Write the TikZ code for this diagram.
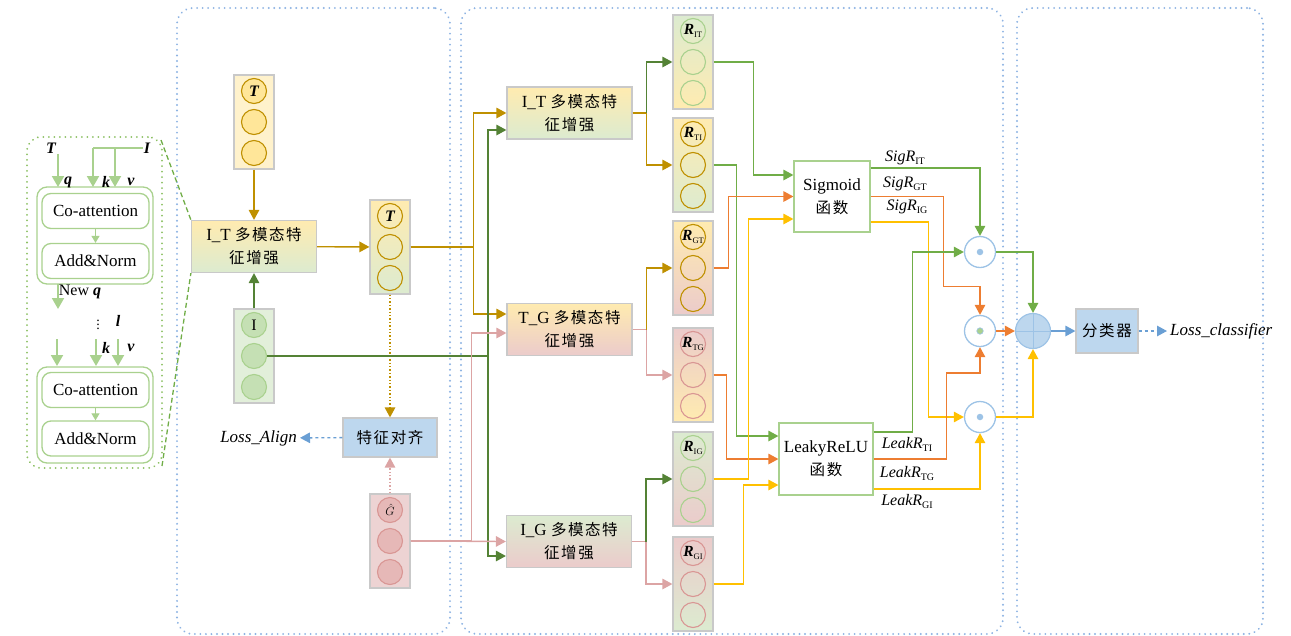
\documentclass[tikz,border=0pt]{standalone}
\usepackage{fontspec}
\setmainfont{Liberation Serif}
\newfontfamily\cjk[LetterSpace=10]{Noto Sans CJK SC}
\usetikzlibrary{arrows.meta}
\definecolor{cGold}{HTML}{BF9000}
\definecolor{cDkGreen}{HTML}{548235}
\definecolor{cGreen}{HTML}{70AD47}
\definecolor{cLtGreen}{HTML}{A9D18E}
\definecolor{cOrange}{HTML}{ED7D31}
\definecolor{cYellow}{HTML}{FFC000}
\definecolor{cPink}{HTML}{DCA4A4}
\definecolor{cPinkC}{HTML}{D99694}
\definecolor{cPinkF}{HTML}{E6B8B7}
\definecolor{cPinkBg}{HTML}{EDD3D3}
\definecolor{cYelBg}{HTML}{FFF2CC}
\definecolor{cGrnBg}{HTML}{E2EFDA}
\definecolor{cYelG}{HTML}{FFEBB0}
\definecolor{cGrnG}{HTML}{DCEBD0}
\definecolor{cPinkG}{HTML}{EBCBCB}
\definecolor{cTcirc}{HTML}{FFE699}
\definecolor{cIcirc}{HTML}{C5E0B4}
\definecolor{cBlue}{HTML}{9DC3E6}
\definecolor{cBlueF}{HTML}{BDD7EE}
\definecolor{cBlueA}{HTML}{6A9FD4}
\definecolor{cGray}{HTML}{C9C9C9}
\definecolor{cDot}{HTML}{8DB3E2}
\definecolor{cLDot}{HTML}{8CC063}
\newcommand\zh[1]{{\cjk\fontsize{15.5}{23}\selectfont #1}}
\newcommand\Rlab[1]{{\fontsize{15.5}{15}\selectfont\bfseries\itshape R}\raisebox{-2.5pt}{\normalfont\fontsize{8.5}{8.5}\selectfont #1}}
\newcommand\Slab[2]{\textit{#1}\raisebox{-3pt}{\normalfont\fontsize{10}{10}\selectfont #2}}
\newcommand\featcol[7]{%
  \node[colbox, top color=#4, bottom color=#5] (#1) at (#2,#3+47) {};
  \node[#6] (#1-1) at (#2,#3+16) {#7};
  \node[#6] (#1-2) at (#2,#3+47) {};
  \node[#6] (#1-3) at (#2,#3+78) {};}
\tikzset{
 panel/.style={draw=cDot, line width=2.1pt, dash pattern=on 0.01pt off 5.5pt, line cap=round, rounded corners=16pt, inner sep=0pt},
 lpanel/.style={draw=cLDot, line width=2pt, dash pattern=on 0.01pt off 5.5pt, line cap=round, rounded corners=14pt, inner sep=0pt},
 lbox/.style={draw=cLtGreen, line width=1.3pt, rounded corners=10pt, inner sep=0pt, fill=white},
 ibox/.style={lbox, rounded corners=9pt, minimum width=107pt, minimum height=35pt, font=\fontsize{17}{20}\selectfont},
 lab/.style={inner sep=0.5pt, font=\fontsize{16}{18}\selectfont\bfseries\itshape},
 colbox/.style={draw=cGray, line width=1.2pt, minimum width=40pt, minimum height=94pt, inner sep=0pt},
 circbase/.style={circle, minimum size=25pt, inner sep=0pt, line width=1.1pt},
 tcirc/.style={circbase, draw=cGold, fill=cTcirc, font=\fontsize{16}{16}\selectfont\bfseries\itshape},
 icirc/.style={circbase, draw=cLtGreen, fill=cIcirc, font=\fontsize{16}{16}\selectfont},
 gcirc/.style={circbase, draw=cPinkC, fill=cPinkF, font=\fontsize{13}{13}\selectfont},
 ocirc/.style={circbase, draw=cGold, font=\fontsize{16}{16}\selectfont\bfseries\itshape},
 ogcirc/.style={circbase, draw=cLtGreen},
 opcirc/.style={circbase, draw=cPinkC},
 fbox/.style={draw=cGray, line width=1.2pt, minimum width=125pt, minimum height=52pt, inner sep=0pt, align=center, font=\fontsize{17}{23}\selectfont},
 abox/.style={draw=cGray, line width=1.2pt, fill=cBlueF, inner sep=0pt},
 gbox/.style={draw=cLtGreen, line width=1.2pt, fill=white, inner sep=0pt, align=center, font=\fontsize{17}{23}\selectfont},
 slab/.style={inner sep=0pt, font=\fontsize{16}{18}\selectfont},
 dotc/.style={circle, draw=cBlue, line width=1.3pt, fill=white, minimum size=31pt, inner sep=0pt},
 arr/.style={-{Triangle[length=10pt,width=10.5pt]}},
 wl/.style={line width=1.4pt},
 goldw/.style={draw=cGold, wl}, dkgw/.style={draw=cDkGreen, wl}, grw/.style={draw=cGreen, wl},
 orw/.style={draw=cOrange, wl}, yew/.style={draw=cYellow, wl}, piw/.style={draw=cPink, wl},
 blw/.style={draw=cBlueA, wl},
 lgw/.style={draw=cLtGreen, line width=2pt},
 lga/.style={lgw, -{Triangle[length=11pt,width=12pt]}},
 lgs/.style={draw=cLtGreen, line width=1.2pt, -{Triangle[length=7pt,width=8pt]}},
 zoomline/.style={draw=cGreen, line width=1.3pt, dash pattern=on 5pt off 3pt},
}
\begin{document}
\begin{tikzpicture}[x=1pt,y=-1pt]
\useasboundingbox (0,0) rectangle (1291,635);
% panels
\node[panel, minimum width=273pt, minimum height=626pt] (p1) at (313.5,321) {};
\node[panel, minimum width=542pt, minimum height=626pt] (p2) at (732,321) {};
\node[panel, minimum width=246pt, minimum height=626pt] (p3) at (1140,321) {};
% left panel
\node[lpanel, minimum width=135pt, minimum height=331pt] (lp) at (94.5,302.5) {};
\node[lbox, minimum width=116pt, minimum height=97pt] (ob1) at (95,235.5) {};
\node[ibox] (co1) at (95.5,211) {Co-attention};
\node[ibox] (an1) at (95.5,261) {Add\&Norm};
\node[lbox, minimum width=116pt, minimum height=96pt] (ob2) at (95,415) {};
\node[ibox] (co2) at (95.5,390) {Co-attention};
\node[ibox] (an2) at (95.5,438.5) {Add\&Norm};
\node[lab] (Tl) at (51,148) {T};
\node[lab] (Il) at (147,148) {I};
\node[lab] (ql) at (68,182) {q};
\node[lab] (kl) at (106,182) {k};
\node[lab] (vl) at (131,182) {v};
\node[inner sep=0pt, font=\fontsize{16}{18}\selectfont] (nql) at (80,292) {New \textbf{\textit{q}}};
\node[inner sep=0pt, font=\fontsize{14}{14}\selectfont] (vd) at (98,322) {$\vdots$};
\node[lab] (ll) at (118,321) {l};
\node[lab] (kl2) at (106,348) {k};
\node[lab] (vl2) at (131,348) {v};
\coordinate (qin) at (58,187);
\coordinate (kin) at (93,187);
\coordinate (vin) at (115,187);
\coordinate (nq0) at (58,284);
\coordinate (nq1) at (58,309);
\coordinate (a0) at (57,339); \coordinate (a1) at (57,366);
\coordinate (b0) at (96,339); \coordinate (b1) at (96,366);
\coordinate (c0) at (118,339); \coordinate (c1) at (118,366);
\draw[lga] (Tl.south -| qin) -- (qin);
\draw[lgw] (Il.west) -- (Il.west -| kin);
\draw[lga] (Il.west -| kin) -- (kin);
\draw[lga] (Il.west -| vin) -- (vin);
\draw[lgs] (co1) -- (an1);
\draw[lga] (nq0) -- (nq1);
\draw[lga] (a0) -- (a1);
\draw[lga] (b0) -- (b1);
\draw[lga] (c0) -- (c1);
\draw[lgs] (co2) -- (an2);
% first middle panel
\featcol{colT}{254}{75}{cYelBg}{cYelBg}{tcirc}{T}
\featcol{colI}{254}{309}{cGrnBg}{cGrnBg}{icirc}{I}
\featcol{colTp}{390}{200}{cYelG}{cGrnG}{ocirc}{T}
\featcol{colG}{390}{494}{cPinkBg}{cPinkBg}{gcirc}{$\hat{G}$}
\node[fbox, top color=cYelG, bottom color=cGrnG] (IT1) at (254,246.5) {I\_T \zh{多模态特}\\\zh{征增强}};
\node[abox, minimum width=94pt, minimum height=39pt] (align) at (390,437.5) {\zh{特征对齐}};
\node[anchor=east, inner sep=3pt, font=\fontsize{17}{20}\selectfont\itshape] (lossA) at (300,438) {Loss\_Align};
\draw[zoomline] ([xshift=-2pt,yshift=-4pt]lp.north east) -- (IT1.north west);
\draw[zoomline] ([xshift=-1pt,yshift=3pt]lp.south east) -- (IT1.south west);
\draw[goldw, arr] (colT) -- (IT1);
\draw[dkgw, arr] (colI) -- (IT1);
\draw[goldw, arr] (IT1) -- (colTp);
\draw[draw=cGold, line width=1.4pt, dotted, arr] (colTp) -- (align);
\draw[draw=cPink, line width=1.4pt, dotted, arr] (colG) -- (align);
\draw[draw=cBlueA, line width=1.4pt, dashed, arr] (align) -- (lossA);
% enhancement boxes
\node[fbox, top color=cYelG, bottom color=cGrnG] (IT2) at (569.5,113) {I\_T \zh{多模态特}\\\zh{征增强}};
\node[fbox, top color=cYelG, bottom color=cPinkG] (TG) at (569.5,329.5) {T\_G \zh{多模态特}\\\zh{征增强}};
\node[fbox, top color=cGrnG, bottom color=cPinkG] (IG) at (569,541.5) {I\_G \zh{多模态特}\\\zh{征增强}};
\coordinate (jg) at (488,0);
\draw[goldw, arr] (colTp.east) -- ++(63,0) |- (IT2.west);
\draw[goldw, arr] (colTp.east) -- ++(63,0) |- ([yshift=15.5pt]TG.west);
\draw[dkgw, arr] (colI-2.east) -- (colI-2.east -| jg) |- ([yshift=-17pt]IT2.west);
\draw[dkgw, arr] (colI-2.east) -- (colI-2.east -| jg) |- ([yshift=-14.5pt]IG.west);
\draw[piw, arr] (colG.east) -- (IG.west);
\draw[piw, arr] (colG.east) -- ++(61,0) |- ([yshift=-3.5pt]TG.west);
% R columns
\featcol{RIT}{693}{15}{cGrnG}{cYelG}{ogcirc}{\Rlab{IT}}
\featcol{RTI}{693}{118}{cYelG}{cGrnG}{ocirc}{\Rlab{TI}}
\featcol{RGT}{693}{221}{cYelG}{cPinkG}{ocirc}{\Rlab{GT}}
\featcol{RTG}{693}{328}{cPinkG}{cYelG}{opcirc}{\Rlab{TG}}
\featcol{RIG}{693}{432}{cGrnG}{cPinkG}{ogcirc}{\Rlab{IG}}
\featcol{RGI}{693}{537}{cPinkG}{cGrnG}{opcirc}{\Rlab{GI}}
\draw[goldw] (IT2.east) -- ++(14,0) coordinate (j2);
\draw[dkgw, arr] (j2) |- (RIT.west);
\draw[goldw, arr] (j2) |- (RTI.west);
\draw[piw] (TG.east) -- ++(14,0) coordinate (j3);
\draw[goldw, arr] (j3) |- (RGT.west);
\draw[piw, arr] (j3) |- (RTG.west);
\draw[piw] (IG.east) -- ++(14,0) coordinate (j4);
\draw[dkgw, arr] (j4) |- (RIG.west);
\draw[piw, arr] (j4) |- (RGI.west);
% activation boxes
\node[gbox, minimum width=76pt, minimum height=71pt] (sig) at (832,196.5) {Sigmoid\\\zh{函数}};
\node[gbox, minimum width=94pt, minimum height=72pt] (leaky) at (826,459) {LeakyReLU\\\zh{函数}};
\draw[grw, arr] (RIT.east) -- ++(40,0) |- ([yshift=21.5pt]sig.west);
\draw[grw, arr] (RTI.east) -- ++(23,0) |- ([yshift=23pt]leaky.west);
\draw[orw, arr] (RGT.east) -- ++(15,0) |- (sig.west);
\draw[orw, arr] (RTG.east) -- ++(13,0) |- (leaky.west);
\draw[yew, arr] (RIG.east) -- ++(35,0) |- ([yshift=-22.5pt]sig.west);
\draw[yew, arr] (RGI.east) -- ++(30,0) |- ([yshift=-26pt]leaky.west);
% product and sum nodes
\node[dotc] (d1) at (980,252) {};
\node[dotc] (d2) at (980,331) {};
\node[dotc] (d3) at (980,417) {};
\node[circle, fill=cBlue, minimum size=6.5pt, inner sep=0pt] (d1c) at (d1) {};
\node[circle, fill=cLtGreen, draw=cBlue, line width=0.6pt, minimum size=6.5pt, inner sep=0pt] (d2c) at (d2) {};
\node[circle, fill=cBlue, minimum size=6.5pt, inner sep=0pt] (d3c) at (d3) {};
\node[circle, draw=cBlue, fill=cBlueF, line width=1.2pt, minimum size=35pt, inner sep=0pt] (sum) at (1033,331) {};
\draw[draw=cBlue, line width=1pt] (sum.north) -- (sum.south);
\draw[draw=cBlue, line width=1pt] (sum.west) -- (sum.east);
\node[abox, minimum width=62pt, minimum height=44pt] (cls) at (1107,331) {\zh{分类器}};
\node[anchor=west, inner sep=3pt, font=\fontsize{17}{20}\selectfont\itshape] (lossC) at (1167,331) {Loss\_classifier};
% labels
\node[slab] (s1) at (905,158) {\Slab{SigR}{IT}};
\node[slab] (s2) at (905,184) {\Slab{SigR}{GT}};
\node[slab] (s3) at (907,207) {\Slab{SigR}{IG}};
\node[slab] (l1) at (907,444) {\Slab{LeakR}{TI}};
\node[slab] (l2) at (907,473) {\Slab{LeakR}{TG}};
\node[slab] (l3) at (907,501) {\Slab{LeakR}{GI}};
% activation outputs
\draw[grw, arr] ([yshift=28.5pt]sig.east) -| (d1.north);
\draw[orw, arr] (sig.east) -- ++(73,0) -- ++(0,90) -| (d2.north);
\draw[yew, arr] ([yshift=-25.5pt]sig.east) -- ++(58,0) |- (d3.west);
\draw[grw, arr] ([yshift=27pt]leaky.east) -- ++(39,0) |- (d1.west);
\draw[orw, arr] (leaky.east) -- ++(73,0) -- ++(0,-86) -| (d2.south);
\draw[yew, arr] ([yshift=-30pt]leaky.east) -| (d3.south);
\draw[grw, arr] (d1.east) -| (sum.north);
\draw[orw, arr] (d2.east) -- (sum.west);
\draw[yew, arr] (d3.east) -| (sum.south);
\draw[blw, arr] (sum.east) -- (cls.west);
\draw[draw=cBlueA, line width=1.4pt, dashed, arr] (cls.east) -- (lossC.west);
\end{tikzpicture}
\end{document}
